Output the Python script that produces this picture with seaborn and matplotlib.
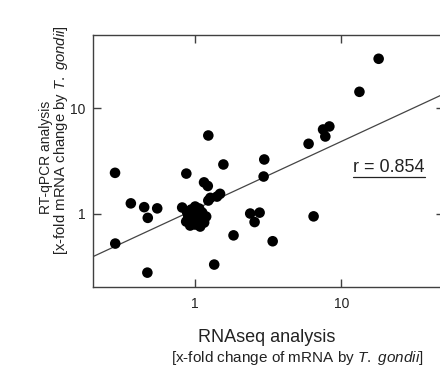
import numpy as np
import pandas as pd
import matplotlib
matplotlib.use("Agg")
import matplotlib.pyplot as plt
import seaborn as sns
from matplotlib.lines import Line2D

# RNAseq fold change (x) and RT-qPCR fold change (y)
rnaseq = [0.815, 0.882, 0.868, 0.939, 1.0, 1.065, 1.117, 1.189, 1.152, 1.082,
          1.0, 0.924, 0.969, 1.048, 0.896, 1.016, 1.099, 0.954,
          0.283, 0.363, 0.448, 0.55, 0.474, 0.284, 0.471,
          0.87, 1.23, 1.56, 1.15, 1.22, 1.27, 1.48, 1.41, 1.23,
          1.35, 1.83, 2.38, 2.76, 2.55, 2.97, 2.94, 6.46, 3.39,
          5.97, 7.77, 7.5, 8.28, 13.3, 18.0]
rtqpcr = [1.141, 1.022, 0.839, 1.092, 1.166, 1.116, 1.022, 0.936, 0.821, 0.752,
          0.786, 0.769, 0.957, 0.916, 0.916, 1.045, 0.877, 0.858,
          2.44, 1.25, 1.15, 1.12, 0.91, 0.518, 0.274,
          2.4, 5.53, 2.93, 1.98, 1.83, 1.41, 1.54, 1.45, 1.33,
          0.327, 0.62, 1.0, 1.02, 0.83, 3.27, 2.25, 0.94, 0.545,
          4.61, 5.41, 6.31, 6.74, 14.4, 29.7]
fit_slope = 0.645      # log10-log10 regression
fit_intercept = 0.041
r_value = 0.854
tick_values = [1, 10]
tick_labels = ["1", "10"]

sns.set_style("ticks")
plt.rcParams["font.family"] = ["Liberation Sans", "DejaVu Sans"]
plt.rcParams["mathtext.fontset"] = "custom"
plt.rcParams["mathtext.it"] = "Liberation Sans:italic"
plt.rcParams["mathtext.rm"] = "Liberation Sans"

W, H = 440, 369
fig = plt.figure(figsize=(W / 100, H / 100), dpi=100)
L, R, T, B = 93, 443.5, 35, 287
ax = fig.add_axes([L / W, 1 - B / H, (R - L) / W, (B - T) / H])

df = pd.DataFrame({"RNAseq": rnaseq, "RTqPCR": rtqpcr})
sns.scatterplot(data=df, x="RNAseq", y="RTqPCR", ax=ax, color="black", s=58,
                edgecolor="none", linewidth=0, zorder=3, legend=False)
ax.set_xscale("log")
ax.set_yscale("log")
ax.set_xlim(0.2, 50)
ax.set_ylim(0.2, 50)

xs = np.array([0.2, 50.0])
ax.plot(xs, 10 ** fit_intercept * xs ** fit_slope, color="#444444", lw=0.9, zorder=2)

ax.set_xticks(tick_values)
ax.set_xticklabels(tick_labels)
ax.set_yticks(tick_values)
ax.set_yticklabels(tick_labels)
ax.minorticks_off()
ax.tick_params(which="major", direction="in", length=6, width=1, color="#404040",
               top=True, right=True, labelsize=10, labelcolor="#222222")
ax.tick_params(axis="x", pad=7)
ax.tick_params(axis="y", pad=5.5)
for sp in ax.spines.values():
    sp.set_visible(True)
    sp.set_color("#404040")
    sp.set_linewidth(1.0)
ax.set_xlabel("")
ax.set_ylabel("")

tc = "#222222"
fig.text(267 / W, 1 - 338 / H, "RNAseq analysis", ha="center", va="center", fontsize=13, color=tc)
fig.text(297 / W, 1 - 358 / H, r"[x-fold change of mRNA by $\mathit{T.\ gondii}$]",
         ha="center", va="center", fontsize=11, color=tc)
fig.text(46 / W, 1 - 157 / H, "RT-qPCR analysis", ha="center", va="center",
         rotation=90, fontsize=10, color=tc)
fig.text(61 / W, 1 - 140 / H, r"[x-fold mRNA change by $\mathit{T.\ gondii}$]",
         ha="center", va="center", rotation=90, fontsize=10.7, color=tc)

rt = fig.text(353 / W, 1 - 167 / H, f"r = {r_value:.3f}", ha="left", va="center",
              fontsize=13, color=tc)
fig.canvas.draw()
bb = rt.get_window_extent()
uy = bb.y0 - 1.0
fig.add_artist(Line2D([bb.x0 / W, bb.x1 / W], [uy / H, uy / H], color=tc, lw=0.9,
                      transform=fig.transFigure))

fig.savefig("out.png", dpi=100)
